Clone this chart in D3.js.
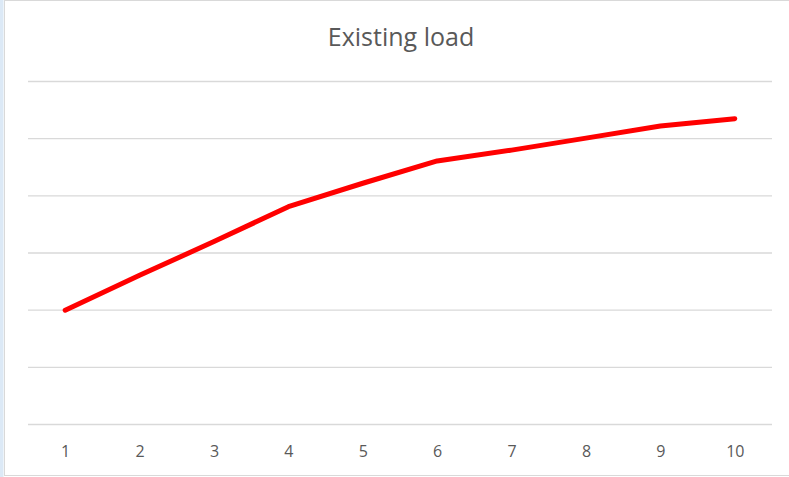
<!DOCTYPE html>
<html>
<head>
<meta charset="utf-8">
<script src="https://cdn.jsdelivr.net/npm/d3@7"></script>
<style>
  html, body { margin: 0; padding: 0; background: #fff; }
  svg { display: block; }
</style>
</head>
<body>
<svg id="chart" width="789" height="477"></svg>
<script>
// Chart data
const title = "Existing load";
const categories = ["1", "2", "3", "4", "5", "6", "7", "8", "9", "10"];
const loadValues = [20, 26.1, 32, 38.1, 42.2, 46.1, 48, 50.1, 52.2, 53.5];
const gridTicks = [0, 10, 20, 30, 40, 50, 60];

const W = 789, H = 477;
const plot = { left: 28, right: 772, top: 81.5, bottom: 424.5 };

const svg = d3.select("#chart");

// Outer frame of the chart object
svg.append("rect").attr("x", 0).attr("y", 0).attr("width", 3.5).attr("height", H)
  .attr("fill", "#dce9f6");
svg.append("rect")
  .attr("x", 4.5).attr("y", 0.5).attr("width", W + 10).attr("height", 475)
  .attr("fill", "#fff").attr("stroke", "#d9d9d9").attr("stroke-width", 1);

const x = d3.scalePoint().domain(categories).range([plot.left, plot.right]).padding(0.5);
const y = d3.scaleLinear().domain([0, 60]).range([plot.bottom, plot.top]);

// Horizontal gridlines
svg.append("g")
  .selectAll("line")
  .data(gridTicks)
  .join("line")
  .attr("x1", plot.left).attr("x2", plot.right)
  .attr("y1", d => y(d)).attr("y2", d => y(d))
  .attr("stroke", "#d9d9d9").attr("stroke-width", 1.4);

// Category axis labels
const xAxis = d3.axisBottom(x).tickSize(0).tickPadding(0);
const gx = svg.append("g").attr("transform", `translate(0,${plot.bottom})`).call(xAxis);
gx.select(".domain").remove();
gx.selectAll("text")
  .attr("y", 0).attr("dy", 0)
  .attr("transform", "translate(0,32)")
  .attr("fill", "#595959")
  .style("font-family", "'Open Sans', 'Noto Sans', sans-serif")
  .style("font-size", "16px");

// Series line
const line = d3.line()
  .x((d, i) => x(categories[i]))
  .y(d => y(d));
svg.append("path")
  .datum(loadValues)
  .attr("d", line)
  .attr("fill", "none")
  .attr("stroke", "#ff0000")
  .attr("stroke-width", 5)
  .attr("stroke-linecap", "round")
  .attr("stroke-linejoin", "round");

// Title
svg.append("text")
  .attr("x", 401).attr("y", 46)
  .attr("text-anchor", "middle")
  .attr("fill", "#595959")
  .style("font-family", "'Open Sans', 'Noto Sans', sans-serif")
  .style("font-size", "25px")
  .text(title);
</script>
</body>
</html>
